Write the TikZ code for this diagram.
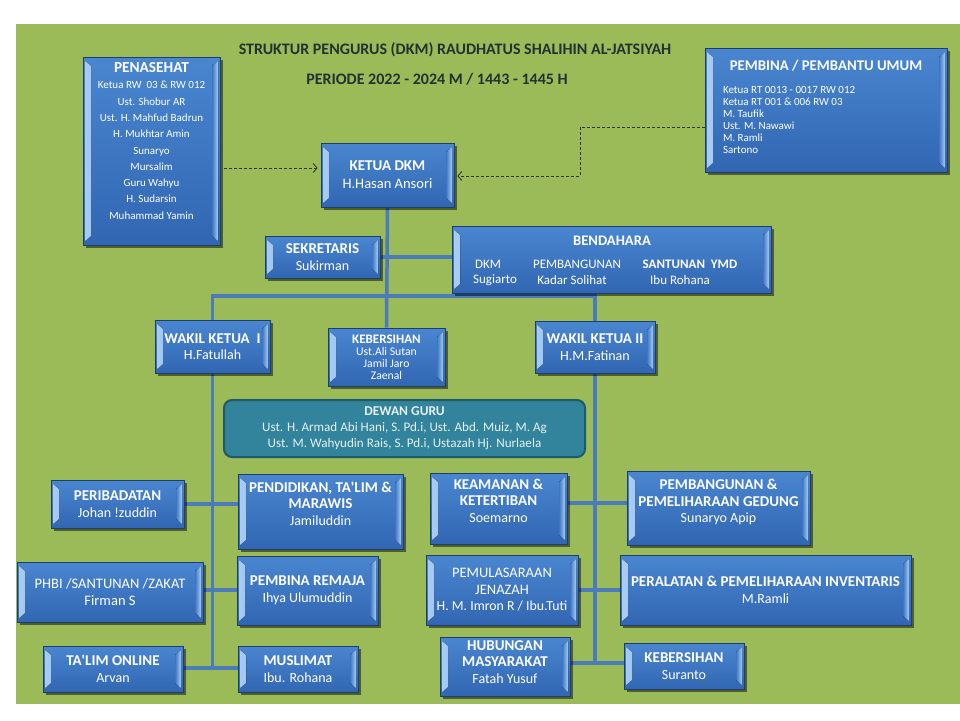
\documentclass[tikz,border=0pt]{standalone}
\usepackage{fontspec}
\setmainfont{Carlito}
\usetikzlibrary{shadows,arrows.meta}
\definecolor{bggreen}{HTML}{9BBB59}
\definecolor{btop}{HTML}{4A86D0}
\definecolor{bbot}{HTML}{3166B2}
\definecolor{bmid}{HTML}{3D76C2}
\definecolor{bdark}{HTML}{1E3E6E}
\definecolor{blight}{HTML}{A9CDF3}
\definecolor{connc}{HTML}{4C7BBA}
\definecolor{dgfill}{HTML}{31849B}
\definecolor{dgdraw}{HTML}{215968}
\definecolor{dgtext}{HTML}{E8F0F2}
\definecolor{titlec}{HTML}{223232}
\pgfdeclarelayer{bg}
\pgfdeclarelayer{back}
\pgfsetlayers{bg,back,main}
\newcommand\hb[1]{{\fontsize{15}{16.5}\selectfont\bfseries #1}}
\tikzset{
  bx/.style={rectangle, draw=bdark, line width=0.7pt, top color=btop, bottom color=bbot,
    text=white, align=center, inner sep=1pt,
    font=\fontsize{14}{16.5}\selectfont,
    drop shadow={shadow xshift=2.5pt, shadow yshift=-2.5pt, opacity=0.5, fill=black},
    path picture={
      \fill[left color=blight, right color=bmid]
        ([xshift=2pt,yshift=-4pt]path picture bounding box.north west) --
        ([xshift=8pt,yshift=-9pt]path picture bounding box.north west) --
        ([xshift=8pt,yshift=9pt]path picture bounding box.south west) --
        ([xshift=2pt,yshift=4pt]path picture bounding box.south west) -- cycle;
      \fill[left color=bmid, right color=blight]
        ([xshift=-8pt,yshift=-9pt]path picture bounding box.north east) --
        ([xshift=-2pt,yshift=-4pt]path picture bounding box.north east) --
        ([xshift=-2pt,yshift=4pt]path picture bounding box.south east) --
        ([xshift=-8pt,yshift=9pt]path picture bounding box.south east) -- cycle;
    }},
  raise/.style={text depth=#1},
  dgbox/.style={rectangle, rounded corners=8pt, draw=dgdraw, line width=2pt, fill=dgfill,
    text=dgtext, align=center, font=\fontsize{13.1}{16}\selectfont},
  conn/.style={draw=connc, line width=3.5pt},
  dsh/.style={draw=black!80, line width=0.8pt, dash pattern=on 3pt off 2pt,
    -{Straight Barb[length=4pt,width=9pt]}},
  ttl/.style={text=titlec, font=\fontsize{16}{18}\selectfont\bfseries},
  txt/.style={text=white, font=\fontsize{13}{16}\selectfont, inner sep=0pt},
}
\begin{document}
\begin{tikzpicture}[x=1pt,y=-1pt]
\useasboundingbox (0,0) rectangle (960,720);
\begin{pgfonlayer}{bg}
\fill[white] (0,0) rectangle (960,720);
\fill[bggreen] (16,24) rectangle (960,704);
\end{pgfonlayer}

% titles
\node[ttl] (t1) at (455,50) {STRUKTUR PENGURUS (DKM) RAUDHATUS SHALIHIN AL-JATSIYAH};
\node[ttl] (t2) at (437,79) {PERIODE 2022 - 2024 M / 1443 - 1445 H};

% top boxes
\node[bx, minimum width=137, minimum height=188, font=\fontsize{11}{16.3}\selectfont] (pena) at (151.5,151)
 {{\fontsize{15.3}{16}\selectfont\bfseries PENASEHAT}\\Ketua RW\ \ 03 \& RW 012\\Ust. Shobur AR\\Ust. H. Mahfud Badrun\\H. Mukhtar Amin\\Sunaryo\\Mursalim\\Guru Wahyu\\H. Sudarsin\\Muhammad Yamin\\[4pt]};
\node[bx, minimum width=242, minimum height=124] (pemb) at (826,110)
 {\begin{minipage}{206pt}\centering{\fontsize{14.8}{17}\selectfont\bfseries PEMBINA / PEMBANTU UMUM\par}\vspace{11pt}\raggedright\fontsize{11}{12}\selectfont Ketua RT 0013 - 0017 RW 012\\Ketua RT 001 \& 006 RW 03\\M. Taufik\\Ust. M. Nawawi\\M. Ramli\\Sartono\par\vspace{7pt}\end{minipage}};
\node[bx, minimum width=133, minimum height=64, font=\fontsize{14.5}{18}\selectfont] (ketua) at (387.5,175) {\hb{KETUA DKM}\\H.Hasan Ansori};
\node[bx, minimum width=115, minimum height=42] (sek) at (322.5,257) {\hb{SEKRETARIS}\\Sukirman};
\node[bx, minimum width=319, minimum height=67] (bend) at (611.5,259.5) {};
\node[txt, font=\fontsize{14.6}{16}\selectfont\bfseries] (bendh) at (612,241) {BENDAHARA};
\node[txt] (bd1a) at (488,264) {DKM};
\node[txt] (bd1b) at (495,280) {Sugiarto};
\node[txt] (bd2a) at (577,264) {PEMBANGUNAN};
\node[txt] (bd2b) at (572,280) {Kadar Solihat};
\node[txt, font=\fontsize{13}{16}\selectfont\bfseries] (bd3a) at (690,264) {SANTUNAN\ \ YMD};
\node[txt] (bd3b) at (680,280) {Ibu Rohana};

% second level
\node[bx, minimum width=115, minimum height=53] (wk1) at (212.5,346.5) {\hb{WAKIL KETUA\ \ I}\\H.Fatullah};
\node[bx, minimum width=117, minimum height=58, font=\fontsize{11.7}{12}\selectfont] (kebm) at (386.5,357) {{\fontsize{13}{12}\selectfont\bfseries KEBERSIHAN}\\Ust.Ali Sutan\\Jamil Jaro\\Zaenal};
\node[bx, minimum width=120, minimum height=52] (wk2) at (595,347) {\hb{WAKIL KETUA II}\\H.M.Fatinan};
\node[dgbox, minimum width=361, minimum height=57] (dg) at (404.5,428.5) {{\fontsize{13.5}{16}\selectfont\bfseries DEWAN GURU}\\Ust. H. Armad Abi Hani, S. Pd.i, Ust. Abd. Muiz, M. Ag\\Ust. M. Wahyudin Rais, S. Pd.i, Ustazah Hj. Nurlaela};

% left column
\node[bx, minimum width=133, minimum height=48] (perib) at (117.5,504) {\hb{PERIBADATAN}\\Johan !zuddin};
\node[bx, raise=15.5pt, minimum width=165, minimum height=75] (pend) at (320.5,511.5) {\hb{PENDIDIKAN, TA\textquotesingle LIM \&}\\\hb{MARAWIS}\\Jamiluddin};
\node[bx, minimum width=186, minimum height=60, font=\fontsize{14.5}{16.5}\selectfont] (phbi) at (110,592) {PHBI /SANTUNAN /ZAKAT\\Firman S};
\node[bx, minimum width=141, minimum height=69] (rem) at (307.5,590.5) {\hb{PEMBINA REMAJA}\\Ihya Ulumuddin};
\node[bx, minimum width=140, minimum height=46] (tal) at (113,669) {\hb{TA\textquotesingle LIM ONLINE}\\Arvan};
\node[bx, minimum width=120, minimum height=46] (mus) at (298,669) {\hb{MUSLIMAT}\\Ibu. Rohana};

% right column
\node[bx, raise=15.5pt, minimum width=137, minimum height=71] (keam) at (498.5,508.5) {\hb{KEAMANAN \&}\\\hb{KETERTIBAN}\\Soemarno};
\node[bx, raise=13.5pt, minimum width=183, minimum height=74] (pgd) at (718.5,508) {\hb{PEMBANGUNAN \&}\\\hb{PEMELIHARAAN GEDUNG}\\Sunaryo Apip};
\node[bx, minimum width=152, minimum height=70, font=\fontsize{14.5}{16.5}\selectfont] (jen) at (502,590) {PEMULASARAAN\\JENAZAH\\{\fontsize{13.8}{16.5}\selectfont H. M. Imron R / Ibu.Tuti}};
\node[bx, minimum width=291, minimum height=70] (inv) at (765.5,590) {\hb{PERALATAN \& PEMELIHARAAN INVENTARIS}\\M.Ramli};
\node[bx, raise=9.5pt, minimum width=130, minimum height=59] (hub) at (505,666.5) {\hb{HUBUNGAN}\\\hb{MASYARAKAT}\\Fatah Yusuf};
\node[bx, minimum width=120, minimum height=46] (kebs) at (684,666) {\hb{KEBERSIHAN}\\Suranto};

% connectors
\coordinate (bar) at (387,296);
\coordinate (l1) at (212,504);
\coordinate (l2) at (212,590);
\coordinate (l3) at (212,668);
\coordinate (r1) at (595,503);
\coordinate (r2) at (595,590);
\coordinate (r3) at (595,663);
\begin{pgfonlayer}{back}
\draw[conn] (ketua.south) -- (kebm.north);
\draw[conn] (sek.east) -- (sek.east -| bend.west);
\draw[conn] (wk1.north) |- (bar) -| (wk2.north);
\draw[conn] (wk1.south) -- (wk1.south |- l3);
\draw[conn] (perib.east |- l1) -- (pend.west |- l1);
\draw[conn] (phbi.east |- l2) -- (rem.west |- l2);
\draw[conn] (tal.east |- l3) -- (mus.west |- l3);
\draw[conn] (wk2.south) -- (wk2.south |- r3);
\draw[conn] (keam.east |- r1) -- (pgd.west |- r1);
\draw[conn] (jen.east |- r2) -- (inv.west |- r2);
\draw[conn] (hub.east |- r3) -- (kebs.west |- r3);
\end{pgfonlayer}

% dashed arrows
\coordinate (dA) at (220,168);
\coordinate (dB) at (580,127);
\draw[dsh, shorten <=4pt, shorten >=3pt] (pena.east |- dA) -- (dA -| ketua.west);
\draw[dsh, shorten >=3pt] (pemb.west |- dB) -- (dB) |- ([yshift=-1pt]ketua.east);
\end{tikzpicture}
\end{document}
